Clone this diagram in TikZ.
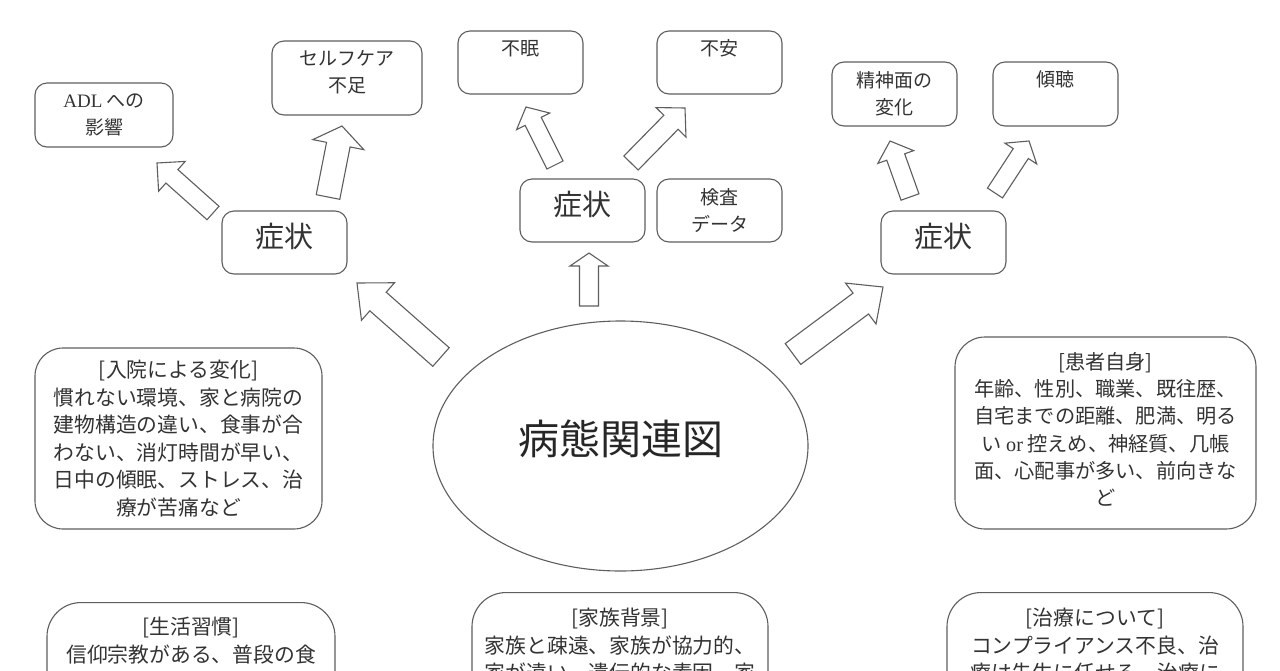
\documentclass[tikz,border=0pt]{standalone}
\usepackage{fontspec}
\setmainfont{Liberation Serif}
\newfontfamily\jp{Noto Sans CJK JP}
\usetikzlibrary{calc,shapes.geometric}
\definecolor{linegray}{HTML}{5E5E5E}
\definecolor{textgray}{HTML}{333333}
% block arrow: tail, tip, half shaft width, half head width, head length
\newcommand{\blockarr}[5]{%
  \coordinate (bh) at ($(#2)!#5!(#1)$);
  \draw[barr] ($(#1)!#3!90:(#2)$) -- ($(bh)!#3!90:(#2)$) -- ($(bh)!#4!90:(#2)$) -- (#2)
    -- ($(bh)!#4!-90:(#2)$) -- ($(bh)!#3!-90:(#2)$) -- ($(#1)!#3!-90:(#2)$) -- cycle;}
\begin{document}
\begin{tikzpicture}[x=1pt,y=-1pt,
  sbox/.style={draw=linegray, line width=1.1pt, rounded corners=12pt, fill=white,
    align=center, text=textgray, inner sep=0pt,
    minimum width=125pt, minimum height=63pt,
    font=\jp\fontsize{19}{27}\selectfont},
  symbox/.style={sbox, font=\jp\fontsize{29}{34}\selectfont, text depth=14pt},
  bigbox/.style={draw=linegray, line width=1.1pt, rounded corners=28pt, fill=white,
    align=center, text=textgray, inner sep=0pt,
    font=\jp\fontsize{20.8}{27.6}\selectfont},
  btext/.style={align=center, text=textgray, inner sep=0pt, anchor=north,
    font=\jp\fontsize{20.8}{27.6}\selectfont},
  barr/.style={draw=linegray, fill=white, line width=1.1pt, line join=miter}]
\useasboundingbox (0,0) rectangle (1280,670);
\clip (0,0) rectangle (1280,670);
\fill[white] (0,0) rectangle (1280,670);

% small boxes
\node[sbox, minimum width=138pt, minimum height=64pt] (adl) at (104,115) {\textrm{ADL} への\\影響};
\node[sbox, minimum width=150pt, minimum height=74pt, text depth=13pt] (self) at (347,78) {セルフケア\\不足};
\node[symbox] (symL) at (284.5,242.5) {症状};
\node[sbox, text depth=30pt] (fumin) at (520.5,62.5) {不眠};
\node[sbox, text depth=30pt] (fuan) at (719.5,62.5) {不安};
\node[symbox] (symM) at (582.5,210.5) {症状};
\node[sbox] (kensa) at (719.5,210.5) {検査\\データ};
\node[sbox, minimum height=64pt] (seishin) at (894.5,94) {精神面の\\変化};
\node[sbox, minimum height=64pt, text depth=30pt] (keicho) at (1055.5,94) {傾聴};
\node[symbox] (symR) at (943.5,242.5) {症状};

% central ellipse
\node[draw=linegray, line width=1.1pt, ellipse, minimum width=375pt, minimum height=250pt,
  inner sep=0pt, text=black!85, font=\jp\fontsize{41}{48}\selectfont, text depth=17pt]
  (main) at (620.5,446) {病態関連図};

% big text boxes
\node[bigbox, minimum width=287pt, minimum height=181pt] (nyuin) at (178.5,438.5)
  {[入院による変化]\\慣れない環境、家と病院の\\建物構造の違い、食事が合\\わない、消灯時間が早い、\\日中の傾眠、ストレス、治\\療が苦痛など};
\node[bigbox, rounded corners=30pt, minimum width=301pt, minimum height=192pt, text depth=8pt,
  font=\jp\fontsize{20.2}{27.3}\selectfont] (kanja) at (1105.5,433)
  {[患者自身]\\年齢、性別、職業、既往歴、\\自宅までの距離、肥満、明る\\い \textrm{or} 控えめ、神経質、几帳\\面、心配事が多い、前向きな\\ど};

% bottom boxes (cut off by the picture edge)
\node[bigbox, rounded corners=34pt, minimum width=288pt, minimum height=160pt, anchor=north] (seikatsu) at (191,602) {};
\node[btext] (seikatsuT) at ($(seikatsu.north)+(0,15)$) {[生活習慣]\\信仰宗教がある、普段の食};
\node[bigbox, rounded corners=34pt, minimum width=296pt, minimum height=160pt, anchor=north] (kazoku) at (620,592) {};
\node[btext] (kazokuT) at ($(kazoku.north)+(0,16)$) {[家族背景]\\家族と疎遠、家族が協力的、\\家が遠い、遺伝的な素因、家};
\node[bigbox, rounded corners=34pt, minimum width=296pt, minimum height=160pt, anchor=north] (chiryo) at (1095,592) {};
\node[btext] (chiryoT) at ($(chiryo.north)+(0,16)$) {[治療について]\\コンプライアンス不良、治\\療は先生に任せる、治療に};

% block arrows
\coordinate (a1s) at (213,213);  \coordinate (a1e) at (157,163);
\coordinate (a2s) at (328,197);  \coordinate (a2e) at (342,126);
\coordinate (a3s) at (441,357);  \coordinate (a3e) at (357,283);
\coordinate (a4s) at (555,165);  \coordinate (a4e) at (526,107);
\coordinate (a5s) at (631,163);  \coordinate (a5e) at (685,108);
\coordinate (a6s) at (589,306);  \coordinate (a6e) at (589,253);
\coordinate (a7s) at (910,197);  \coordinate (a7e) at (890,141);
\coordinate (a8s) at (995,193);  \coordinate (a8e) at (1029,141);
\coordinate (a9s) at (793,354);  \coordinate (a9e) at (883,287);
\blockarr{a1s}{a1e}{9pt}{20pt}{20pt}
\blockarr{a2s}{a2e}{12pt}{26pt}{19pt}
\blockarr{a3s}{a3e}{12.4pt}{25pt}{28pt}
\blockarr{a4s}{a4e}{9pt}{18.5pt}{16pt}
\blockarr{a5s}{a5e}{10pt}{21pt}{20pt}
\blockarr{a6s}{a6e}{9.5pt}{19pt}{13pt}
\blockarr{a7s}{a7e}{9.5pt}{19pt}{17pt}
\blockarr{a8s}{a8e}{9pt}{19pt}{15pt}
\blockarr{a9s}{a9e}{13pt}{25.5pt}{27.7pt}
\end{tikzpicture}
\end{document}
